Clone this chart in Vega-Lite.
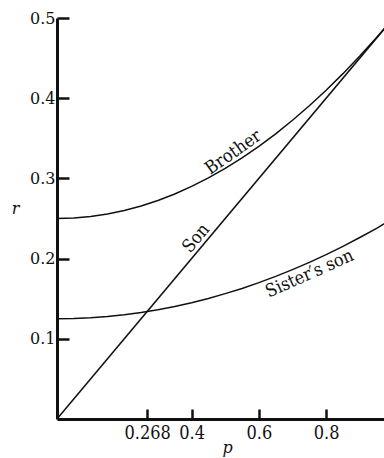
{
  "$schema": "https://vega.github.io/schema/vega-lite/v6.json",
  "width": 327,
  "height": 401,
  "autosize": {"type": "none"},
  "padding": {"left": 57, "top": 18, "right": 0, "bottom": 39},
  "background": "white",
  "config": {
    "view": {"stroke": null},
    "axis": {
      "grid": false,
      "domainColor": "#111",
      "domainWidth": 3,
      "tickColor": "#111",
      "tickWidth": 2.5,
      "labelColor": "#111",
      "titleFontStyle": "italic",
      "titleFontWeight": "normal",
      "titleFont": "DejaVu Serif",
      "titleFontSize": 16,
      "titleColor": "#111"
    }
  },
  "data": {
    "values": [
      {"p": 0, "r": 0.25, "rel": "Brother"},
      {"p": 0.05, "r": 0.2506, "rel": "Brother"},
      {"p": 0.1, "r": 0.2525, "rel": "Brother"},
      {"p": 0.15, "r": 0.2556, "rel": "Brother"},
      {"p": 0.2, "r": 0.26, "rel": "Brother"},
      {"p": 0.25, "r": 0.2656, "rel": "Brother"},
      {"p": 0.3, "r": 0.2725, "rel": "Brother"},
      {"p": 0.35, "r": 0.2806, "rel": "Brother"},
      {"p": 0.4, "r": 0.29, "rel": "Brother"},
      {"p": 0.45, "r": 0.3006, "rel": "Brother"},
      {"p": 0.5, "r": 0.3125, "rel": "Brother"},
      {"p": 0.55, "r": 0.3256, "rel": "Brother"},
      {"p": 0.6, "r": 0.34, "rel": "Brother"},
      {"p": 0.65, "r": 0.3556, "rel": "Brother"},
      {"p": 0.7, "r": 0.3725, "rel": "Brother"},
      {"p": 0.75, "r": 0.3906, "rel": "Brother"},
      {"p": 0.8, "r": 0.41, "rel": "Brother"},
      {"p": 0.85, "r": 0.4306, "rel": "Brother"},
      {"p": 0.9, "r": 0.4525, "rel": "Brother"},
      {"p": 0.95, "r": 0.4756, "rel": "Brother"},
      {"p": 1, "r": 0.5, "rel": "Brother"},
      {"p": 0, "r": 0.125, "rel": "Sister's son"},
      {"p": 0.05, "r": 0.1253, "rel": "Sister's son"},
      {"p": 0.1, "r": 0.1263, "rel": "Sister's son"},
      {"p": 0.15, "r": 0.1278, "rel": "Sister's son"},
      {"p": 0.2, "r": 0.13, "rel": "Sister's son"},
      {"p": 0.25, "r": 0.1328, "rel": "Sister's son"},
      {"p": 0.3, "r": 0.1363, "rel": "Sister's son"},
      {"p": 0.35, "r": 0.1403, "rel": "Sister's son"},
      {"p": 0.4, "r": 0.145, "rel": "Sister's son"},
      {"p": 0.45, "r": 0.1503, "rel": "Sister's son"},
      {"p": 0.5, "r": 0.1563, "rel": "Sister's son"},
      {"p": 0.55, "r": 0.1628, "rel": "Sister's son"},
      {"p": 0.6, "r": 0.17, "rel": "Sister's son"},
      {"p": 0.65, "r": 0.1778, "rel": "Sister's son"},
      {"p": 0.7, "r": 0.1863, "rel": "Sister's son"},
      {"p": 0.75, "r": 0.1953, "rel": "Sister's son"},
      {"p": 0.8, "r": 0.205, "rel": "Sister's son"},
      {"p": 0.85, "r": 0.2153, "rel": "Sister's son"},
      {"p": 0.9, "r": 0.2263, "rel": "Sister's son"},
      {"p": 0.95, "r": 0.2378, "rel": "Sister's son"},
      {"p": 1, "r": 0.25, "rel": "Sister's son"},
      {"p": 0, "r": 0, "rel": "Son"},
      {"p": 1, "r": 0.5, "rel": "Son"}
    ]
  },
  "layer": [
    {
      "mark": {"type": "line", "clip": true, "color": "#111", "strokeWidth": 1.5},
      "encoding": {
        "x": {
          "field": "p", "type": "quantitative",
          "scale": {"domain": [0, 0.972], "nice": false, "zero": false},
          "axis": {
            "values": [0.268, 0.4, 0.6, 0.8],
            "format": ".3~f",
            "labelFont": "DejaVu Serif Condensed",
            "labelFontSize": 18,
            "tickSize": -10,
            "labelPadding": 15,
            "title": "p",
            "titleX": 170,
            "titleY": 33,
            "titleBaseline": "alphabetic",
            "titleAlign": "center"
          }
        },
        "y": {
          "field": "r", "type": "quantitative",
          "scale": {"domain": [0, 0.5], "nice": false},
          "axis": {
            "values": [0.1, 0.2, 0.3, 0.4, 0.5],
            "format": ".1f",
            "labelFont": "DejaVu Serif",
            "labelFontSize": 16,
            "tickSize": -12,
            "labelPadding": 14,
            "title": "r",
            "titleAngle": 0,
            "titleX": -42,
            "titleY": 190,
            "titleAlign": "center",
            "titleBaseline": "middle"
          }
        },
        "detail": {"field": "rel", "type": "nominal"}
      }
    },
    {
      "data": {"values": [{"label": "Brother", "p": 0.54, "r": 0.3229}]},
      "mark": {"type": "text", "font": "DejaVu Serif Condensed", "angle": -35, "baseline": "bottom", "align": "center", "fontSize": 18, "color": "#111"},
      "encoding": {
        "x": {"field": "p", "type": "quantitative"},
        "y": {"field": "r", "type": "quantitative"},
        "text": {"field": "label"}
      }
    },
    {
      "data": {"values": [{"label": "Son", "p": 0.435, "r": 0.2177}]},
      "mark": {"type": "text", "font": "DejaVu Serif Condensed", "angle": -50, "baseline": "bottom", "align": "center", "fontSize": 18, "color": "#111"},
      "encoding": {
        "x": {"field": "p", "type": "quantitative"},
        "y": {"field": "r", "type": "quantitative"},
        "text": {"field": "label"}
      }
    },
    {
      "data": {"values": [{"label": "Sister′s   son", "p": 0.738, "r": 0.1931}]},
      "mark": {"type": "text", "font": "DejaVu Serif Condensed", "angle": -24, "baseline": "top", "align": "center", "dy": 2, "fontSize": 18, "color": "#111"},
      "encoding": {
        "x": {"field": "p", "type": "quantitative"},
        "y": {"field": "r", "type": "quantitative"},
        "text": {"field": "label"}
      }
    }
  ]
}
